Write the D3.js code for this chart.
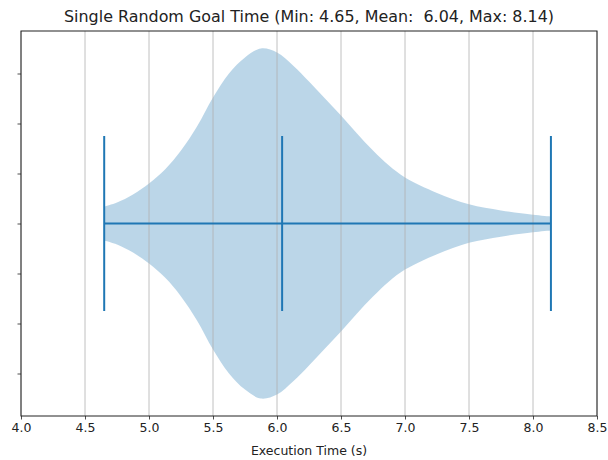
<!DOCTYPE html>
<html>
<head>
<meta charset="utf-8">
<script src="https://cdn.jsdelivr.net/npm/d3@7"></script>
<style>
  html, body { margin: 0; padding: 0; background: #fff; }
  svg text { font-family: "DejaVu Sans", sans-serif; fill: #222; }
</style>
</head>
<body>
<svg id="chart" width="608" height="460"></svg>
<script>
// Summary statistics of the execution times
const minTime = 4.65;
const meanTime = 6.04;
const maxTime = 8.14;

// Kernel density estimate of the execution times (relative to its peak)
const kdeTimes   = [4.65, 4.75, 4.875, 5.0, 5.125, 5.25, 5.375, 5.5, 5.625, 5.75, 5.875, 6.0, 6.125, 6.25, 6.375, 6.5, 6.625, 6.75, 6.875, 7.0, 7.25, 7.5, 7.75, 8.0, 8.14];
const kdeDensity = [0.097, 0.12, 0.166, 0.229, 0.309, 0.417, 0.554, 0.72, 0.857, 0.949, 1.0, 0.977, 0.903, 0.811, 0.714, 0.617, 0.514, 0.417, 0.331, 0.263, 0.175, 0.11, 0.075, 0.05, 0.04];

// Axis ticks
const xTicks = [4.0, 4.5, 5.0, 5.5, 6.0, 6.5, 7.0, 7.5, 8.0, 8.5];
const yTicks = [0.7, 0.8, 0.9, 1.0, 1.1, 1.2, 1.3];

const titleText = "Single Random Goal Time (Min: 4.65, Mean:  6.04, Max: 8.14)";
const xLabel = "Execution Time (s)";

const position = 1;      // violin centre on the category axis
const violinWidth = 0.7; // full width of the violin at its peak

const margin = { left: 21, right: 11, top: 31, bottom: 44 };
const W = 608, H = 460;
const iw = W - margin.left - margin.right;
const ih = H - margin.top - margin.bottom;
const C0 = "#1f77b4";

const svg = d3.select("#chart");
const g = svg.append("g").attr("transform", `translate(${margin.left},${margin.top})`);

const x = d3.scaleLinear().domain([4.0, 8.5]).range([0, iw]);
const y = d3.scaleLinear().domain([0.615, 1.385]).range([ih, 0]);
const half = d3.scaleLinear().domain([0, 1]).range([0, violinWidth / 2]);

const pts = kdeTimes.map((t, i) => ({ t, d: kdeDensity[i] }));

// Violin body
const area = d3.area()
  .x(p => x(p.t))
  .y0(p => y(position - half(p.d)))
  .y1(p => y(position + half(p.d)))
  .curve(d3.curveCatmullRom.alpha(0.5));

g.append("path")
  .datum(pts)
  .attr("d", area)
  .attr("fill", C0)
  .attr("fill-opacity", 0.3)
  .attr("stroke", "none");

// Vertical grid lines
g.append("g")
  .selectAll("line")
  .data(xTicks)
  .join("line")
  .attr("x1", d => x(d)).attr("x2", d => x(d))
  .attr("y1", 0).attr("y2", ih)
  .attr("stroke", "#b0b0b0")
  .attr("stroke-width", 0.8);

// Extent line and min / mean / max bars
const barHalf = violinWidth / 4;
g.append("line")
  .attr("x1", x(minTime)).attr("x2", x(maxTime))
  .attr("y1", y(position)).attr("y2", y(position))
  .attr("stroke", C0).attr("stroke-width", 2);

g.append("g")
  .selectAll("line")
  .data([minTime, meanTime, maxTime])
  .join("line")
  .attr("x1", d => x(d)).attr("x2", d => x(d))
  .attr("y1", y(position - barHalf)).attr("y2", y(position + barHalf))
  .attr("stroke", C0).attr("stroke-width", 2);

// Axes
const xAxis = d3.axisBottom(x).tickValues(xTicks).tickFormat(d3.format(".1f"))
  .tickSize(3.5).tickPadding(3.5);
const gx = g.append("g").attr("transform", `translate(0,${ih})`).call(xAxis);
gx.select(".domain").remove();
gx.selectAll(".tick line").attr("stroke", "#222").attr("stroke-width", 0.8);
gx.selectAll(".tick text").attr("font-size", 12.5).attr("fill", "#222")
  .style("font-family", "DejaVu Sans, sans-serif");

const yAxis = d3.axisLeft(y).tickValues(yTicks).tickFormat("").tickSize(3.5);
const gy = g.append("g").call(yAxis);
gy.select(".domain").remove();
gy.selectAll(".tick line").attr("stroke", "#222").attr("stroke-width", 0.8);

// Frame
g.append("rect")
  .attr("x", 0).attr("y", 0).attr("width", iw).attr("height", ih)
  .attr("fill", "none").attr("stroke", "#222").attr("stroke-width", 1);

// Title and axis label
svg.append("text")
  .attr("x", margin.left + iw / 2).attr("y", 22)
  .attr("text-anchor", "middle")
  .attr("font-size", 15)
  .attr("textLength", 490)
  .attr("lengthAdjust", "spacingAndGlyphs")
  .style("white-space", "pre")
  .attr("xml:space", "preserve")
  .text(titleText);

svg.append("text")
  .attr("x", margin.left + iw / 2).attr("y", 455)
  .attr("text-anchor", "middle")
  .attr("font-size", 12.5)
  .text(xLabel);
</script>
</body>
</html>
